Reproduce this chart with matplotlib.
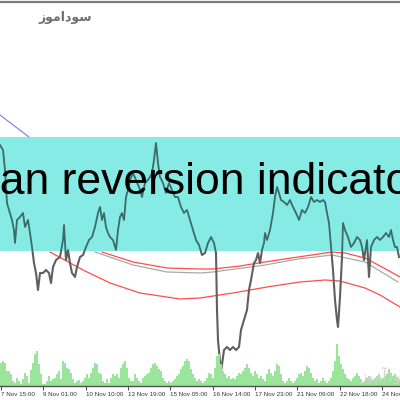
import numpy as np
import matplotlib
matplotlib.use("Agg")
import matplotlib.pyplot as plt
from matplotlib.patches import Rectangle

# price trace (x = bar position, price in chart units)
price_x = [0, 3, 5, 7, 9, 12, 14, 15, 17, 20,
           23, 25, 28, 30, 32, 34, 36, 38, 40, 43,
           46, 49, 51, 53, 56, 60, 63, 64, 66, 68,
           70, 72, 75, 77, 80, 83, 86, 89, 92, 95,
           98, 100, 102, 104, 106, 108, 110, 113, 116, 118,
           120, 122, 124, 126, 128, 130, 133, 136, 139, 142,
           145, 148, 150, 152, 154, 156, 158, 160, 163, 166,
           169, 172, 175, 178, 181, 184, 187, 190, 193, 196,
           199, 202, 205, 208, 211, 214, 216, 217, 218, 221,
           224, 227, 230, 233, 236, 239, 241, 244, 247, 249,
           251, 254, 256, 258, 260, 262, 264, 265, 267, 270,
           273, 275, 277, 279, 281, 284, 287, 290, 293, 296,
           299, 302, 305, 308, 311, 314, 317, 320, 323, 325,
           327, 329, 331, 333, 335, 337, 338, 340, 342, 343,
           345, 348, 351, 354, 357, 360, 362, 364, 367, 369,
           371, 374, 377, 380, 383, 386, 389, 391, 393, 395,
           397, 399]
price_close = [255, 250, 230, 197, 190, 180, 170, 157, 180, 183,
               187, 173, 180, 167, 153, 137, 127, 110, 127, 127,
               130, 127, 117, 133, 140, 143, 160, 175, 140, 150,
               137, 127, 123, 133, 143, 145, 153, 160, 163, 173,
               187, 193, 180, 187, 173, 167, 163, 160, 150, 170,
               183, 187, 180, 203, 210, 220, 227, 220, 213, 203,
               217, 220, 223, 227, 240, 257, 237, 223, 217, 207,
               217, 210, 203, 203, 193, 187, 190, 180, 170, 160,
               155, 145, 147, 157, 163, 157, 147, 90, 60, 28,
               50, 53, 50, 53, 50, 53, 70, 80, 90, 110,
               120, 137, 140, 147, 137, 150, 157, 167, 160, 170,
               187, 203, 213, 207, 200, 198, 195, 200, 193, 187,
               180, 190, 187, 193, 203, 198, 200, 198, 200, 198,
               187, 177, 153, 130, 100, 80, 73, 103, 143, 177,
               170, 163, 153, 157, 163, 160, 153, 140, 160, 123,
               153, 160, 163, 160, 163, 167, 163, 170, 160, 153,
               153, 143]

# mean reversion envelope
upper_x = [102, 133, 167, 200, 213, 240, 265, 298, 332, 345, 365, 382, 400]
upper_y = [148, 138, 132, 131, 131, 134, 138, 143, 148, 147, 142, 133, 123]
mid_x = [95, 133, 167, 200, 213, 265, 298, 332, 365, 398]
mid_y = [148, 135, 128, 127, 128, 135, 141, 145, 138, 118]
lower_x = [50, 83, 110, 140, 180, 200, 233, 267, 300, 325, 340, 365, 380, 400]
lower_y = [148, 130, 117, 107, 101, 102, 107, 113, 118, 120, 119, 112, 105, 93]

# old trend line (top left)
trend_x = [0, 29]
trend_y = [285, 263]

# volume, one bar every 2 positions
volumes = [23, 25, 23, 15, 15, 12, 5, 3, 8, 5,
           2, 7, 13, 10, 3, 16, 23, 32, 35, 22,
           12, 2, 2, 5, 10, 5, 7, 8, 12, 15,
           7, 25, 23, 18, 17, 13, 7, 3, 5, 6,
           3, 5, 8, 12, 8, 13, 18, 23, 22, 13,
           12, 5, 3, 7, 3, 8, 12, 10, 12, 8,
           18, 22, 25, 18, 8, 5, 5, 12, 8, 5,
           3, 8, 10, 12, 13, 18, 22, 23, 20, 17,
           15, 8, 5, 3, 5, 3, 5, 7, 10, 12,
           17, 20, 25, 27, 25, 17, 12, 8, 5, 7,
           5, 3, 5, 8, 13, 12, 8, 18, 30, 32,
           22, 15, 12, 8, 10, 7, 8, 7, 10, 13,
           12, 15, 18, 22, 18, 13, 10, 15, 12, 8,
           10, 7, 5, 12, 17, 13, 10, 15, 22, 20,
           12, 5, 3, 5, 8, 5, 3, 5, 8, 12,
           13, 10, 15, 20, 18, 13, 8, 5, 7, 3,
           5, 8, 5, 3, 5, 8, 15, 25, 42, 30,
           22, 17, 12, 8, 7, 5, 8, 10, 13, 10,
           7, 3, 5, 8, 10, 7, 5, 8, 10, 12,
           7, 8, 10, 12, 17, 13, 10, 12, 8, 5]
vol_x = np.arange(len(volumes)) * 2

tick_pos = [1, 43, 86, 128, 170, 213, 255, 297, 340, 382]
tick_labels = ["7 Nov 15:00", "9 Nov 01:00", "10 Nov 10:00", "13 Nov 19:00",
               "15 Nov 05:00", "16 Nov 14:00", "17 Nov 23:00", "21 Nov 09:00",
               "22 Nov 18:00", "24 Nov 04:00"]

band_lo, band_hi = 149, 263

fig = plt.figure(figsize=(4, 4), dpi=100)
fig.patch.set_facecolor("white")

ax = fig.add_axes([0, 0, 1, 1])
ax.set_xlim(0, 400)
ax.set_ylim(0, 400)
ax.axis("off")

ax.axhline(398.5, color="#7a7a7a", lw=1.6)
ax.plot(trend_x, trend_y, color="#7b7bf0", lw=0.8, zorder=0.5)

for xs, ys, c in [(upper_x, upper_y, "#ff4d4d"), (mid_x, mid_y, "#a9a9a9"),
                  (lower_x, lower_y, "#ff4d4d")]:
    ax.plot(xs, ys, color=c, lw=0.9, zorder=0.6)

ax.plot(price_x, price_close, color="#5f5f5f", lw=1.5, zorder=0.8)
ax.axhspan(band_lo, band_hi, color="#86ebe4", zorder=1, lw=0)
band = Rectangle((0, band_lo), 400, band_hi - band_lo, transform=ax.transData)
inside, = ax.plot(price_x, price_close, color="#3c6b69", lw=1.3, zorder=2)
inside.set_clip_path(band)

ax.text(-62, 206, "mean reversion indicator", fontsize=32,
        family="Liberation Sans", color="black", va="baseline", ha="left", zorder=3)

# watermarks (Arabic presentation forms so the letters join)
fig.text(65 / 400, 1 - 17 / 400, "\uFEAF\uFEEE\uFEE3\uFE8D\uFEA9\uFEEE\uFEB3",
         fontsize=9, fontweight="bold", color="#707070", ha="center", va="center",
         family="DejaVu Sans")
fig.text(360 / 400, 1 - 375 / 400, "\uFEAF\uFEEE\uFEE3\uFE81\uFEA9\uFEEE\uFEB3",
         fontsize=11, color="#d0d0d0", ha="left", va="center", family="DejaVu Sans")

axv = fig.add_axes([0, 14 / 400, 1, 45 / 400])
axv.set_xlim(0, 400)
axv.set_ylim(0, 45)
axv.patch.set_alpha(0)
axv.bar(vol_x + 1, volumes, width=1.6, color="#9be49b", lw=0)
for s in ["top", "left", "right"]:
    axv.spines[s].set_visible(False)
axv.spines["bottom"].set_color("#505050")
axv.spines["bottom"].set_linewidth(1)
axv.set_yticks([])
axv.set_xticks(tick_pos)
axv.set_xticklabels(tick_labels, fontsize=4.5, family="Liberation Sans", color="#333333")
axv.tick_params(axis="x", direction="out", length=3, width=0.8, color="#505050", pad=1.5)
for lbl in axv.get_xticklabels():
    lbl.set_ha("left")

fig.savefig("out.png", dpi=100)
